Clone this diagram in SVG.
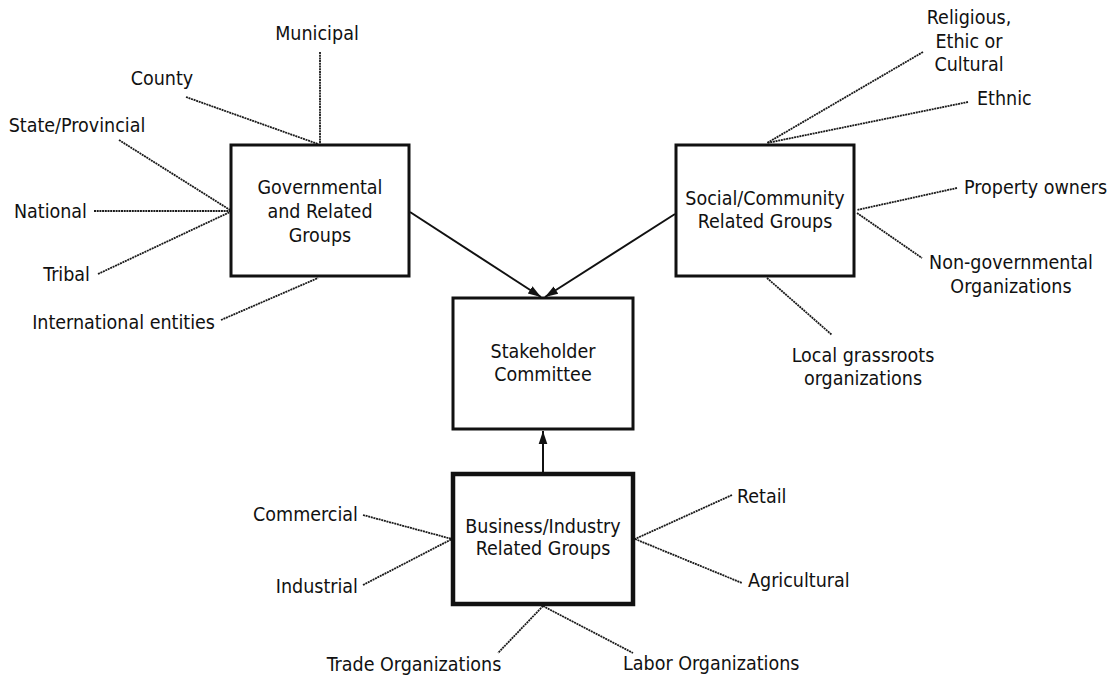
<svg xmlns="http://www.w3.org/2000/svg" width="1114" height="675" viewBox="0 0 1114 675">
<style>
text{font-family:"DejaVu Sans Condensed","DejaVu Sans",sans-serif;font-stretch:condensed;font-size:19.5px;fill:#111}
.m{text-anchor:middle}.e{text-anchor:end}
.box{fill:#fff;stroke:#111;stroke-width:3}
.thick{stroke-width:4.5}
.sp{stroke:#1a1a1a;stroke-width:1.8;stroke-dasharray:2 0.7;fill:none}
.ar{stroke:#111;stroke-width:2;fill:none}
</style>
<defs>
<marker id="ah" viewBox="0 0 12 10" refX="12" refY="5" markerWidth="6.5" markerHeight="5.4" markerUnits="strokeWidth" orient="auto">
<path d="M0,1 L12,5 L0,9 z" fill="#111"/>
</marker>
</defs>
<g id="connectors">
<line class="sp" x1="320" y1="52" x2="320" y2="144"/>
<line class="sp" x1="186" y1="97" x2="318" y2="144"/>
<line class="sp" x1="119" y1="140" x2="230" y2="210"/>
<line class="sp" x1="94" y1="211" x2="230" y2="211"/>
<line class="sp" x1="98" y1="274" x2="230" y2="212"/>
<line class="sp" x1="221" y1="320" x2="318" y2="278"/>
<line class="sp" x1="923" y1="52" x2="767" y2="143"/>
<line class="sp" x1="968" y1="102" x2="767" y2="143"/>
<line class="sp" x1="957" y1="188" x2="857" y2="210"/>
<line class="sp" x1="857" y1="213" x2="922" y2="258"/>
<line class="sp" x1="767" y1="278" x2="832" y2="335"/>
<line class="sp" x1="363" y1="515" x2="452" y2="539"/>
<line class="sp" x1="363" y1="585" x2="452" y2="539"/>
<line class="sp" x1="732" y1="495" x2="635" y2="539"/>
<line class="sp" x1="635" y1="539" x2="742" y2="583"/>
<line class="sp" x1="543" y1="606" x2="498" y2="653"/>
<line class="sp" x1="543" y1="606" x2="633" y2="653"/>
<line class="ar" x1="410" y1="212" x2="541" y2="297" marker-end="url(#ah)"/>
<line class="ar" x1="675" y1="214" x2="545" y2="297" marker-end="url(#ah)"/>
<line class="ar" x1="543" y1="473" x2="543" y2="431" marker-end="url(#ah)"/>
</g>
<g id="gov">
<rect class="box" x="231" y="145" width="178" height="131"/>
<text class="m" x="320" y="194">Governmental</text>
<text class="m" x="320" y="218">and Related</text>
<text class="m" x="320" y="242">Groups</text>
</g>
<g id="social">
<rect class="box" x="676" y="145" width="178" height="131"/>
<text class="m" x="765" y="205">Social/Community</text>
<text class="m" x="765" y="228">Related Groups</text>
</g>
<g id="stakeholder">
<rect class="box" x="453" y="298" width="180" height="131"/>
<text class="m" x="543" y="358">Stakeholder</text>
<text class="m" x="543" y="381">Committee</text>
</g>
<g id="business">
<rect class="box thick" x="453" y="474" width="180" height="130"/>
<text class="m" x="543" y="533">Business/Industry</text>
<text class="m" x="543" y="555">Related Groups</text>
</g>
<g id="gov-labels">
<text class="m" x="317" y="40">Municipal</text>
<text class="m" x="162" y="85">County</text>
<text class="m" x="77" y="132">State/Provincial</text>
<text class="e" x="87" y="218">National</text>
<text class="e" x="90" y="281">Tribal</text>
<text class="e" x="215" y="329">International entities</text>
</g>
<g id="social-labels">
<text class="m" x="969" y="24">Religious,</text>
<text class="m" x="969" y="48">Ethic or</text>
<text class="m" x="969" y="71">Cultural</text>
<text x="977" y="105">Ethnic</text>
<text x="964" y="194">Property owners</text>
<text class="m" x="1011" y="269">Non-governmental</text>
<text class="m" x="1011" y="293">Organizations</text>
<text class="m" x="863" y="362">Local grassroots</text>
<text class="m" x="863" y="385">organizations</text>
</g>
<g id="business-labels">
<text class="e" x="358" y="521">Commercial</text>
<text class="e" x="358" y="593">Industrial</text>
<text x="737" y="503">Retail</text>
<text x="748" y="587">Agricultural</text>
<text class="m" x="414" y="671">Trade Organizations</text>
<text x="623" y="670">Labor Organizations</text>
</g>
</svg>
